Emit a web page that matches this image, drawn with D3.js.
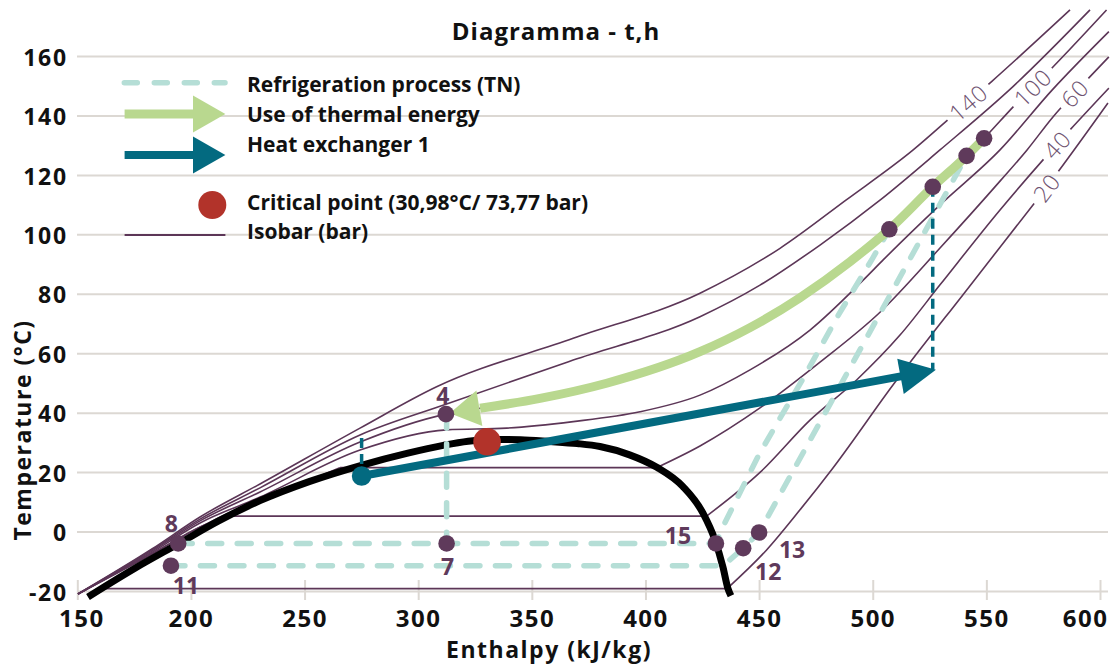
<!DOCTYPE html>
<html><head><meta charset="utf-8">
<script src="https://cdn.jsdelivr.net/npm/d3@7"></script>
<style>
body{margin:0;background:#fff;}
svg{display:block;font-family:'Open Sans',sans-serif;}
</style></head><body>
<svg id="chart" width="1112" height="666"></svg>
<script>
// ---------------- data (h in kJ/kg, T in °C) ----------------
const xTicks = [150,200,250,300,350,400,450,500,550,600];
const yTicks = [-20,0,20,40,60,80,100,120,140,160];

const saturation = [[154.7,-22],[175,-12.5],[194.7,-4.0],[212,3.5],[230.4,10.4],[252,16.8],[275,22.3],[295,26.3],[311,29.0],[322,30.4],[332,31.0],[345,30.9],[358,30.3],[370,29.6],[380,28.6],[393,25.8],[405,21.6],[416.5,15.1],[425.3,6.2],[430.6,-2.9],[434.1,-12],[436.3,-19.2],[437.6,-21.6]];

const isobar140 = [[150.3,-21],[183,-5.8],[204,4.9],[230.4,16.0],[274.4,34.8],[308.1,48.7],[368.2,65.0],[424,80.2],[459.2,95.3],[488.2,111.5],[517.8,128.4],[535.4,140.1],[552.3,151.4],[586.8,175.5]];
const isobar120 = [[150.3,-21],[183,-6.1],[204,4.2],[230.4,14.7],[274.4,32.5],[312.5,42.9],[368.2,57.7],[424,72.3],[450.4,82.9],[476.8,96.4],[503.2,111.5],[529.6,128.4],[561.7,149.7],[595.6,175.5]];
const isobar100 = [[150.3,-21],[183,-6.5],[204,3.6],[230.4,13.3],[274.4,30.1],[312.2,39.5],[327.2,41.5],[353.6,44.8],[382.9,49.9],[424,60.5],[446,68.6],[468,78.7],[490,90.8],[507.3,101.7],[526.4,116.0],[541.3,126.4],[549,132.3],[561.8,142.9],[579.4,156.4],[602.9,175.5]];
const isobar80 = [[150.3,-21],[183,-6.9],[204,2.9],[230.4,11.6],[274.4,27.4],[312.5,34.2],[338.9,34.8],[368.2,37.0],[397.6,40.3],[424,45.9],[446,54.4],[472.4,67.8],[495.8,84.6],[504.6,91.4],[529.6,109.9],[556,128.4],[579,148.6],[603.9,168.2]];
const liquid60 = [[150.3,-21],[183,-7.3],[204,1.5],[230.4,10.9],[250,16.6],[265.6,21.5]];
const vapor60 = [[404.9,21.5],[424.0,28.8],[450.4,41.6],[476.8,57.0],[503.2,73.8],[529.6,95.4],[556.0,117.9],[567.9,128.4],[579.3,139.5],[592.1,150.2],[603.9,159.7]];
const liquid40 = [[150.3,-21],[183,-7.6],[204,1.5],[216.3,5.2]];
const vapor40 = [[426.9,5.2],[450.4,19.9],[472.4,37.5],[492.9,51.0],[512.0,66.1],[529.6,83.0],[556.0,108.2],[578.0,127.7],[603.9,149.2]];
const liquid20 = [[161.3,-19.2]];
const vapor20 = [[435.9,-19.2],[453.3,-6.2],[468.0,7.3],[482.5,21.4],[508.9,49.3],[544.1,84.0],[581.5,121.0],[603.5,144.2]];

const isobarLabelH = {140:541.9, 100:570.3, 60:588.8, 40:581.0, 20:576.4};

const refrigUpper = [[194.4,-4],[312.5,-4],[431,-4],[434,1.5],[450,26],[469,51],[485,73],[500,92],[507.3,101.7]];
const refrigLower = [[191.2,-11.5],[432.5,-11.5],[437,-9.6],[443,-5.6],[450,-0.3],[495.8,63.1],[541.3,126.4]];
const refrigDrop = [[312.5,39.5],[312.5,-4]];

const thermalUse = [[549,132.3],[541.3,126.4],[526.4,116.0],[507.3,101.7],[490,90.8],[468,78.7],[446,68.6],[424,60.5],[382.9,49.9],[353.6,44.8],[327.2,41.5],[313.9,39.8]];
const heatExchanger = [[275.1,18.7],[527.8,54.4]];
const hxDropLeft = [[275.1,31.5],[275.1,18.7]];
const hxDropRight = [[526.4,116.0],[526.4,54.4]];

const statePoints = [[312.2,39.5],[312.5,-4],[194.4,-4],[191.2,-11.5],[431,-4],[443,-5.6],[450,-0.3],[507.3,101.7],[526.4,116.0],[541.3,126.4],[549,132.3]];
const stateLabels = ['4','7','8','11','15','12','13','','','',''];
const criticalPoint = [330.3,30.2];

const legendLabels = ['Refrigeration process (TN)','Use of thermal energy','Heat exchanger 1','Critical point (30,98°C/ 73,77 bar)','Isobar (bar)'];

// ---------------- styles ----------------
const C_GRID='#dcd8d3', C_ISO='#5c3657', C_DOT='#5f3a5b', C_GREEN='#b9d88f', C_TEAL='#036a80',
      C_DASH='#b5ded6', C_RED='#b2332a', C_TEXT='#111', C_ISOLBL='#6e5270';
const labelOffsets = {'4':[-3,-19],'7':[1,23],'8':[-7,-20],'11':[15,19],'15':[-38,-8],'12':[25,23],'13':[33,17]};

const svg = d3.select('#chart');
const x = d3.scaleLinear().domain([150,600]).range([77.3,1100]);
const y = d3.scaleLinear().domain([-20,160]).range([591,56]);
const lin = d3.line().x(d=>x(d[0])).y(d=>y(d[1]));
const smooth = d3.line().x(d=>x(d[0])).y(d=>y(d[1])).curve(d3.curveMonotoneX);

// grid + y axis
const gy = svg.append('g').attr('transform','translate(77,0)')
  .call(d3.axisLeft(y).tickValues(yTicks).tickSize(-1031).tickPadding(9).tickFormat(d=>String(d)));
gy.select('.domain').remove();
gy.attr('font-family',"'Open Sans',sans-serif").attr('font-size',23).attr('font-weight',700);
gy.selectAll('.tick line').attr('stroke',C_GRID).attr('stroke-width',2);
gy.selectAll('.tick text').attr('fill',C_TEXT).attr('letter-spacing','1.8px').attr('dy','0.4em');

// x axis
const gx = svg.append('g').attr('transform','translate(0,591)')
  .call(d3.axisBottom(x).tickValues(xTicks).tickSize(9).tickPadding(0).tickFormat(d=>String(d)));
gx.select('.domain').remove();
gx.attr('font-family',"'Open Sans',sans-serif").attr('font-size',24).attr('font-weight',700);
gx.selectAll('.tick line').attr('y1',-11).attr('y2',9).attr('stroke',C_GRID).attr('stroke-width',2);
gx.selectAll('.tick text').attr('fill',C_TEXT).attr('y',27).attr('dy','0.36em').attr('letter-spacing','1.5px');
gx.selectAll('.tick text').filter(d=>d===600).attr('text-anchor','end').attr('x',8);
gx.selectAll('.tick text').filter(d=>d===150).attr('x',4);

// isobars
const isoG = svg.append('g').attr('fill','none').attr('stroke',C_ISO).attr('stroke-width',1.6);
const isoTable = [
  {p:140, parts:[isobar140]},
  {p:120, parts:[isobar120]},
  {p:100, parts:[isobar100]},
  {p:80,  parts:[isobar80]},
  {p:60,  parts:[liquid60,[liquid60[liquid60.length-1],vapor60[0]],vapor60]},
  {p:40,  parts:[liquid40,[liquid40[liquid40.length-1],vapor40[0]],vapor40]},
  {p:20,  parts:[[liquid20[0],vapor20[0]],vapor20]},
];
const labelPaths = {};
isoTable.forEach(iso=>{
  iso.parts.forEach((pts,i)=>{
    const path = isoG.append('path').attr('d', pts.length===2 ? lin(pts) : smooth(pts));
    if(i===iso.parts.length-1) labelPaths[iso.p]=path;
  });
});

// saturation dome
svg.append('path').attr('d',smooth(saturation)).attr('fill','none').attr('stroke','#000').attr('stroke-width',7);

// refrigeration process dashed
const dashG = svg.append('g').attr('fill','none').attr('stroke',C_DASH).attr('stroke-width',5.5)
  .attr('stroke-linecap','round').attr('stroke-dasharray','14,15.5');
[refrigUpper, refrigLower, refrigDrop].forEach(p=>dashG.append('path').attr('d',lin(p)));

// heat exchanger dotted drops
const hxG = svg.append('g').attr('fill','none').attr('stroke',C_TEAL).attr('stroke-width',3.5).attr('stroke-dasharray','10,6');
[hxDropLeft, hxDropRight].forEach(p=>hxG.append('path').attr('d',lin(p)));

function headPoly(tip, from, len, hw){
  const dx=tip[0]-from[0], dy=tip[1]-from[1], L=Math.hypot(dx,dy), ux=dx/L, uy=dy/L;
  const bx=tip[0]-ux*len, by=tip[1]-uy*len;
  return {base:[bx,by], pts:[[tip[0],tip[1]],[bx-uy*hw,by+ux*hw],[bx+uy*hw,by-ux*hw]]};
}

// use of thermal energy (green)
{
  const shaft = thermalUse.slice(0,-1).slice().sort((a,b)=>a[0]-b[0]);
  const tip = [x(thermalUse[thermalUse.length-1][0]), y(thermalUse[thermalUse.length-1][1])];
  const prev = [x(thermalUse[thermalUse.length-2][0]), y(thermalUse[thermalUse.length-2][1])];
  svg.append('path').attr('d',smooth(shaft)).attr('fill','none').attr('stroke',C_GREEN).attr('stroke-width',9);
  const h = headPoly(tip, prev, 30, 18);
  svg.append('polygon').attr('points',h.pts.map(p=>p.join(',')).join(' ')).attr('fill',C_GREEN);
}
// heat exchanger (teal)
{
  const a=[x(heatExchanger[0][0]),y(heatExchanger[0][1])], b=[x(heatExchanger[1][0]),y(heatExchanger[1][1])];
  const h = headPoly(b, a, 36, 18);
  svg.append('line').attr('x1',a[0]).attr('y1',a[1]).attr('x2',h.base[0]+ (b[0]-a[0])*0.005).attr('y2',h.base[1]+(b[1]-a[1])*0.005)
    .attr('stroke',C_TEAL).attr('stroke-width',8);
  svg.append('polygon').attr('points',h.pts.map(p=>p.join(',')).join(' ')).attr('fill',C_TEAL);
}

// points
svg.append('g').selectAll('circle').data(statePoints).join('circle')
  .attr('cx',d=>x(d[0])).attr('cy',d=>y(d[1])).attr('r',8.3).attr('fill',C_DOT);
svg.append('circle').attr('cx',x(heatExchanger[0][0])).attr('cy',y(heatExchanger[0][1])).attr('r',9.8).attr('fill',C_TEAL);
svg.append('circle').attr('cx',x(criticalPoint[0])).attr('cy',y(criticalPoint[1])).attr('r',13.8).attr('fill',C_RED);

// point labels
svg.append('g').attr('font-size',23).attr('font-weight',700).attr('fill',C_DOT)
  .selectAll('text').data(statePoints.map((d,i)=>({d,l:stateLabels[i]})).filter(o=>o.l)).join('text')
  .attr('x',o=>x(o.d[0])+labelOffsets[o.l][0]).attr('y',o=>y(o.d[1])+labelOffsets[o.l][1])
  .attr('text-anchor','middle').attr('dominant-baseline','central').text(o=>o.l);

// isobar labels with gaps
Object.keys(isobarLabelH).forEach(k=>{
  const node = labelPaths[k].node();
  const L = node.getTotalLength();
  const tx = x(isobarLabelH[k]);
  let lo=0, hi=L;
  for(let i=0;i<40;i++){ const m=(lo+hi)/2; if(node.getPointAtLength(m).x<tx) lo=m; else hi=m; }
  const s=(lo+hi)/2, p=node.getPointAtLength(s), p0=node.getPointAtLength(Math.max(0,s-4)), p1=node.getPointAtLength(Math.min(L,s+4));
  const ang = Math.atan2(p1.y-p0.y,p1.x-p0.x)*180/Math.PI;
  const t = svg.append('text').attr('transform',`translate(${p.x},${p.y}) rotate(${ang})`)
    .attr('text-anchor','middle').attr('dominant-baseline','central').attr('font-size',23).attr('font-weight',300)
    .attr('letter-spacing','1px').attr('fill',C_ISOLBL).text(k);
  const w = t.node().getComputedTextLength()+12;
  labelPaths[k].attr('stroke-dasharray',`${s-w/2},${w},${L}`);
});

// legend
const lg = svg.append('g');
lg.append('line').attr('x1',124.3).attr('x2',225).attr('y1',82.7).attr('y2',82.7)
  .attr('stroke',C_DASH).attr('stroke-width',5.5).attr('stroke-linecap','round').attr('stroke-dasharray','13,17');
[[114,C_GREEN,9],[155,C_TEAL,8]].forEach(([yy,c,w])=>{
  lg.append('line').attr('x1',124.6).attr('x2',195).attr('y1',yy).attr('y2',yy).attr('stroke',c).attr('stroke-width',w);
  const h=headPoly([225.4,yy],[124.6,yy],32.4,18.5);
  lg.append('polygon').attr('points',h.pts.map(p=>p.join(',')).join(' ')).attr('fill',c);
});
lg.append('circle').attr('cx',212.3).attr('cy',205).attr('r',14).attr('fill',C_RED);
lg.append('line').attr('x1',124.6).attr('x2',225.4).attr('y1',235).attr('y2',235).attr('stroke',C_ISO).attr('stroke-width',2);
const legendY=[91.7,121.7,151.7,210,239.3];
lg.selectAll('text').data(legendLabels).join('text').attr('x',247).attr('y',(d,i)=>legendY[i])
  .attr('font-size',21).attr('font-weight',700).attr('fill',C_TEXT).text(d=>d);

// titles
svg.append('text').attr('x',556).attr('y',39.5).attr('text-anchor','middle').attr('font-size',24).attr('font-weight',700)
  .attr('letter-spacing','1px').attr('fill',C_TEXT).text('Diagramma - t,h');
svg.append('text').attr('x',549).attr('y',658).attr('text-anchor','middle').attr('font-size',23).attr('font-weight',700)
  .attr('letter-spacing','1.5px').attr('fill',C_TEXT).text('Enthalpy (kJ/kg)');
svg.append('text').attr('transform','translate(31,430) rotate(-90)').attr('text-anchor','middle').attr('font-size',23).attr('font-weight',700)
  .attr('letter-spacing','1.5px').attr('fill',C_TEXT).text('Temperature (°C)');
</script>
</body></html>
